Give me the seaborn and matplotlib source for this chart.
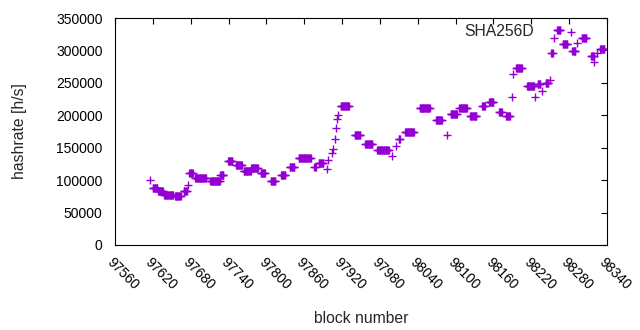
import numpy as np
import pandas as pd
import matplotlib
matplotlib.use("Agg")
import matplotlib.pyplot as plt
import seaborn as sns
from matplotlib.ticker import StrMethodFormatter
from matplotlib.transforms import ScaledTranslation

# runs of blocks sharing one hashrate estimate (first block, last block, h/s)
run_first = [97616, 97620, 97628, 97638, 97655, 97669, 97675, 97678, 97687, 97711,
             97727, 97739, 97752, 97764, 97776, 97791, 97807, 97823, 97837, 97851,
             97876, 97883, 97896, 97898, 97904, 97906, 97909, 97910, 97912, 97913,
             97918, 97940, 97957, 97976, 97999, 98005, 98010, 98020, 98043, 98069,
             98086, 98092, 98106, 98123, 98142, 98153, 98169, 98180, 98190, 98191,
             98196, 98213, 98226, 98230, 98237, 98243, 98250, 98252, 98256, 98261,
             98270, 98285, 98293, 98300, 98315, 98320, 98324, 98329]
run_last = [97616, 97627, 97636, 97652, 97664, 97674, 97675, 97683, 97704, 97726,
            97732, 97746, 97761, 97775, 97786, 97798, 97814, 97830, 97844, 97870,
            97878, 97890, 97896, 97898, 97904, 97906, 97909, 97910, 97912, 97913,
            97931, 97949, 97968, 97994, 97999, 98005, 98012, 98034, 98059, 98078,
            98086, 98102, 98118, 98133, 98146, 98160, 98173, 98186, 98190, 98191,
            98205, 98224, 98226, 98234, 98237, 98247, 98250, 98254, 98256, 98266,
            98277, 98290, 98293, 98307, 98319, 98320, 98324, 98336]
run_rate = [100000, 88000, 83000, 77000, 75500, 83000, 92000, 111000, 104000, 99000,
            108000, 130000, 123000, 114000, 118000, 111000, 98000, 108000, 120000, 134000,
            120000, 127000, 117000, 131000, 142000, 148000, 163000, 180000, 194000, 200000,
            214000, 170000, 155000, 147000, 137000, 153000, 163000, 175000, 212000, 193000,
            170000, 202000, 212000, 199000, 214000, 220000, 205000, 199000, 228000, 264000,
            273000, 245000, 228000, 248000, 237000, 250000, 254000, 296000, 319000, 331000,
            310000, 299000, 311000, 319000, 291000, 282000, 296000, 302000]

x_ticks = list(range(97560, 98341, 60))
y_ticks = list(range(0, 350001, 50000))

blocks, rates = [], []
for a, b, r in zip(run_first, run_last, run_rate):
    for blk in range(a, b + 1):
        blocks.append(blk)
        rates.append(r)
df = pd.DataFrame({"block": blocks, "hashrate": rates})

sns.set_theme(style="white")
plt.rcParams["font.family"] = ["Liberation Sans", "DejaVu Sans"]
plt.rcParams["font.size"] = 10

fig = plt.figure(figsize=(6.4, 3.3), dpi=100)
ax = fig.add_axes([115 / 640, 1 - 245 / 330, (607 - 115) / 640, (245 - 18) / 330])

sns.scatterplot(data=df, x="block", y="hashrate", marker="+", s=34,
                color="#9400d3", linewidth=1.0, label="SHA256D", ax=ax)

ax.set_xlim(97560, 98340)
ax.set_ylim(0, 350000)
ax.set_xticks(x_ticks)
ax.set_yticks(y_ticks)
ax.xaxis.set_major_formatter(StrMethodFormatter("{x:.0f}"))
ax.yaxis.set_major_formatter(StrMethodFormatter("{x:.0f}"))
ax.tick_params(direction="in", length=4.5, width=0.8, top=True, right=True,
               colors="black", labelsize=10)
ax.tick_params(axis="y", pad=9)
ax.tick_params(axis="x", pad=11)
shift = ScaledTranslation(-4 / 72, 0, fig.dpi_scale_trans)
for lab in ax.get_xticklabels():
    lab.set_rotation(-45)
    lab.set_rotation_mode("anchor")
    lab.set_ha("left")
    lab.set_va("center")
    lab.set_transform(lab.get_transform() + shift)
for sp in ax.spines.values():
    sp.set_color("black")
    sp.set_linewidth(0.8)

ax.set_xlabel("block number", fontsize=11.3, labelpad=13)
ax.set_ylabel("hashrate [h/s]", fontsize=11.3, labelpad=21)

ax.legend(loc="upper right", bbox_to_anchor=(0.95, 0.975), frameon=False,
          markerfirst=False, handletextpad=1.6, borderaxespad=0, borderpad=0,
          fontsize=11.3, handlelength=1.5)

fig.savefig("out.png", dpi=100)
